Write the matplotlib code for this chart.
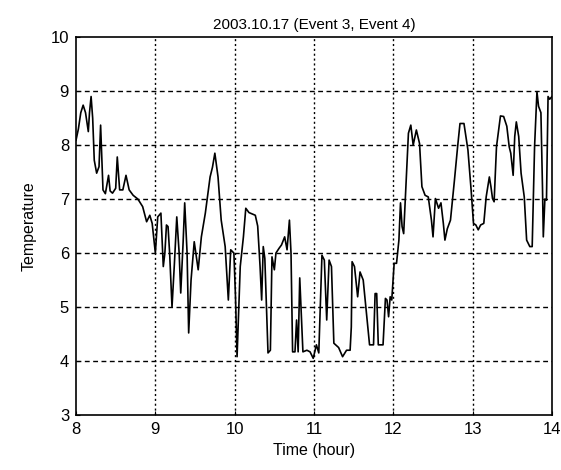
import matplotlib
matplotlib.use("Agg")
import matplotlib.pyplot as plt

plt.rcParams['font.family'] = ['Liberation Sans', 'DejaVu Sans']

time_hour = [
    8.00, 8.03, 8.06, 8.09, 8.12, 8.155, 8.17, 8.19, 8.21, 8.23, 8.26, 8.29, 8.31, 8.34, 8.37,
    8.41, 8.43, 8.46, 8.50, 8.52, 8.55, 8.59, 8.63, 8.67, 8.72, 8.78, 8.84, 8.89, 8.93, 8.96,
    9.00, 9.03, 9.07, 9.10, 9.12, 9.14, 9.16, 9.18, 9.21, 9.24, 9.27, 9.30, 9.32, 9.35, 9.37,
    9.40, 9.42, 9.45, 9.49, 9.54, 9.58, 9.63, 9.69, 9.72, 9.75, 9.79, 9.83, 9.88, 9.92, 9.95,
    9.99, 10.01, 10.03, 10.07, 10.11, 10.14, 10.18, 10.26, 10.29, 10.32, 10.34, 10.36, 10.38,
    10.42, 10.45, 10.47, 10.50, 10.52, 10.56, 10.59, 10.63, 10.66, 10.69, 10.71, 10.73, 10.76,
    10.78, 10.80, 10.82, 10.86, 10.91, 10.95, 10.99, 11.03, 11.06, 11.10, 11.13, 11.16, 11.19,
    11.22, 11.25, 11.31, 11.36, 11.41, 11.455, 11.47, 11.48, 11.51, 11.55, 11.58, 11.62, 11.67,
    11.70, 11.75, 11.77, 11.79, 11.81, 11.87, 11.90, 11.92, 11.94, 11.96, 11.98, 12.01, 12.04,
    12.07, 12.09, 12.11, 12.13, 12.17, 12.19, 12.22, 12.25, 12.29, 12.33, 12.36, 12.40, 12.44,
    12.48, 12.50, 12.53, 12.57, 12.60, 12.63, 12.65, 12.68, 12.72, 12.77, 12.81, 12.84, 12.89,
    12.94, 12.98, 13.01, 13.04, 13.07, 13.10, 13.14, 13.17, 13.21, 13.23, 13.25, 13.27, 13.30,
    13.35, 13.39, 13.43, 13.46, 13.48, 13.51, 13.53, 13.55, 13.58, 13.61, 13.65, 13.68, 13.72,
    13.75, 13.78, 13.81, 13.83, 13.86, 13.88, 13.89, 13.91, 13.93, 13.95, 13.97, 14.00,
]
temperature = [
    8.09, 8.30, 8.60, 8.74, 8.60, 8.25, 8.60, 8.90, 8.50, 7.72, 7.48, 7.60, 8.37, 7.17, 7.10,
    7.44, 7.15, 7.11, 7.20, 7.78, 7.17, 7.17, 7.44, 7.17, 7.07, 7.00, 6.86, 6.58, 6.70, 6.55,
    6.00, 6.67, 6.74, 5.75, 6.00, 6.52, 6.49, 6.00, 5.00, 5.80, 6.67, 6.00, 5.26, 6.20, 6.93,
    6.00, 4.52, 5.50, 6.21, 5.69, 6.30, 6.74, 7.41, 7.59, 7.85, 7.41, 6.61, 6.12, 5.13, 6.06,
    6.00, 5.20, 4.08, 5.75, 6.30, 6.83, 6.75, 6.70, 6.50, 5.75, 5.13, 6.12, 5.90,
    4.15, 4.20, 5.93, 5.69, 6.00, 6.09, 6.15, 6.30, 6.06, 6.61, 6.00, 4.17, 4.17,
    4.76, 4.17, 5.54, 4.17, 4.20, 4.17, 4.05, 4.30, 4.15, 5.96, 5.87, 4.76, 5.87,
    5.75, 4.33, 4.25, 4.08, 4.20, 4.20, 4.63, 5.84, 5.75, 5.19, 5.65, 5.50, 4.76,
    4.30, 4.30, 5.25, 5.25, 4.30, 4.30, 5.16, 5.13, 4.82, 5.19, 5.13, 5.81, 5.81,
    6.24, 6.93, 6.49, 6.36, 7.60, 8.22, 8.37, 8.00, 8.28, 8.03, 7.23, 7.07, 7.04,
    6.61, 6.30, 7.01, 6.83, 6.93, 6.55, 6.24, 6.45, 6.61, 7.35, 7.97, 8.40, 8.40,
    7.91, 7.17, 6.55, 6.52, 6.43, 6.52, 6.55, 7.04, 7.41, 7.23, 7.01, 6.95, 7.97,
    8.54, 8.53, 8.35, 7.97, 7.85, 7.44, 8.16, 8.43, 8.16, 7.48, 7.04, 6.24, 6.12,
    6.12, 7.97, 8.99, 8.72, 8.60, 7.20, 6.30, 7.00, 6.98, 8.90, 8.85, 8.90,
]

x_ticks = [8, 9, 10, 11, 12, 13, 14]
y_ticks = [3, 4, 5, 6, 7, 8, 9, 10]

fig = plt.figure(figsize=(5.61, 4.70), dpi=100)
ax = fig.add_axes([0.1355, 0.117, 0.8485, 0.804])

ax.plot(time_hour, temperature, color='black', linewidth=1.2)

ax.set_xlim(8, 14)
ax.set_ylim(3, 10)
ax.set_xticks(x_ticks)
ax.set_yticks(y_ticks)

for yv in y_ticks[1:-1]:
    ax.axhline(yv, color='black', linewidth=1.0, linestyle=(0, (3.5, 2.5)), zorder=0)
for xv in x_ticks[1:-1]:
    ax.axvline(xv, color='black', linewidth=1.0, linestyle=(0, (1.5, 2)), zorder=0)

ax.tick_params(direction='in', length=3, labelsize=12, colors='black', pad=5)
for s in ax.spines.values():
    s.set_linewidth(1.2)
    s.set_color('black')

ax.set_title('2003.10.17 (Event 3, Event 4)', fontsize=11, pad=6)
ax.set_xlabel('Time (hour)', fontsize=11.5, labelpad=4)
ax.set_ylabel('Temperature', fontsize=11.5, labelpad=10)

fig.savefig('out.png', dpi=100)
